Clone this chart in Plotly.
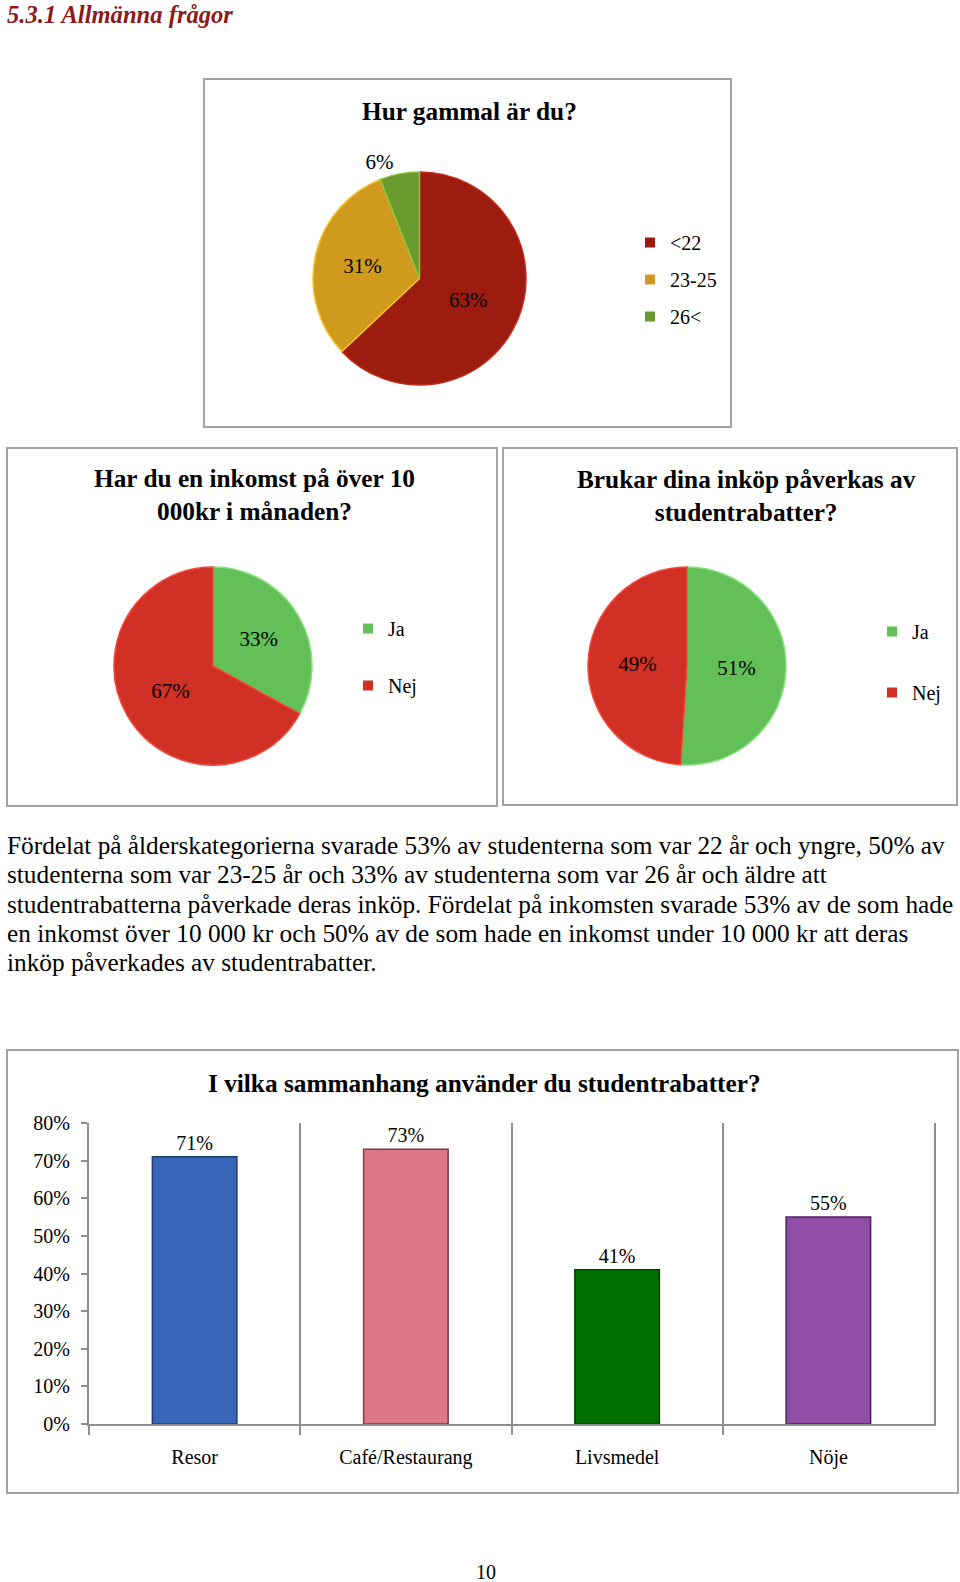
import plotly.graph_objects as go

W, H = 960, 1582
SERIF = "Liberation Serif, Times New Roman, serif"

# ---------------- data ----------------
age_title = "Hur gammal är du?"
age_labels = ["<22", "23-25", "26<"]
age_values = [63, 31, 6]
age_colors = ["#9C1C10", "#D09A1E", "#6A9A2E"]
age_edges = ["#C42A18", "#F2C530", "#8CC43E"]

yn_labels = ["Ja", "Nej"]
yn_colors = ["#63C058", "#D13125"]
yn_edges = ["#86E27A", "#F4473A"]

income_title = "Har du en inkomst på över 10<br>000kr i månaden?"
income_values = [33, 67]

discount_title = "Brukar dina inköp påverkas av<br>studentrabatter?"
discount_values = [51, 49]

bar_title = "I vilka sammanhang använder du studentrabatter?"
bar_categories = ["Resor", "Café/Restaurang", "Livsmedel", "Nöje"]
bar_values = [0.71, 0.73, 0.41, 0.55]
bar_colors = ["#3A66B9", "#DD7788", "#007000", "#914EA6"]
bar_edges = ["#1F3C70", "#7A3A44", "#003F00", "#4E2460"]
y_tick_vals = [0, 0.1, 0.2, 0.3, 0.4, 0.5, 0.6, 0.7, 0.8]

header_text = "5.3.1 Allmänna frågor"
paragraph_lines = [
    "Fördelat på ålderskategorierna svarade 53% av studenterna som var 22 år och yngre, 50% av",
    "studenterna som var 23-25 år och 33% av studenterna som var 26 år och äldre att",
    "studentrabatterna påverkade deras inköp. Fördelat på inkomsten svarade 53% av de som hade",
    "en inkomst över 10 000 kr och 50% av de som hade en inkomst under 10 000 kr att deras",
    "inköp påverkades av studentrabatter.",
]
page_number = "10"


def fx(x):
    return x / W


def fy(y):
    return 1 - y / H


fig = go.Figure()

# ---------------- bars (first, so the x axis is categorical) ----------------
fig.add_trace(go.Bar(
    x=bar_categories, y=bar_values, width=0.4,
    marker=dict(color=bar_colors, line=dict(color=bar_edges, width=1.5)),
    texttemplate="%{y:.0%}", textposition="outside", cliponaxis=False,
    textfont=dict(family=SERIF, size=20, color="black"),
    showlegend=False, hoverinfo="x+y",
))

# ---------------- pies ----------------
fig.add_trace(go.Pie(
    labels=age_labels, values=age_values, sort=False, direction="clockwise", rotation=0,
    marker=dict(colors=age_colors, line=dict(color=age_edges, width=1.5)),
    texttemplate="%{percent:.0%}", textposition=["inside", "inside", "outside"],
    insidetextorientation="horizontal",
    textfont=dict(family=SERIF, size=21, color="black"),
    domain=dict(x=[fx(313), fx(526)], y=[fy(420), fy(137)]),
    showlegend=False, hoverinfo="label+percent",
))
fig.add_trace(go.Pie(
    labels=yn_labels, values=income_values, sort=False, direction="clockwise", rotation=0,
    marker=dict(colors=yn_colors, line=dict(color=yn_edges, width=1.5)),
    texttemplate="%{percent:.0%}", textposition="inside", insidetextorientation="horizontal",
    textfont=dict(family=SERIF, size=21, color="black"),
    domain=dict(x=[fx(114), fx(312)], y=[fy(765), fy(567)]),
    showlegend=False, hoverinfo="label+percent",
))
fig.add_trace(go.Pie(
    labels=yn_labels, values=discount_values, sort=False, direction="clockwise", rotation=0,
    marker=dict(colors=yn_colors, line=dict(color=yn_edges, width=1.5)),
    texttemplate="%{percent:.0%}", textposition="inside", insidetextorientation="horizontal",
    textfont=dict(family=SERIF, size=21, color="black"),
    domain=dict(x=[fx(588), fx(786)], y=[fy(765), fy(567)]),
    showlegend=False, hoverinfo="label+percent",
))

# legend entries (one per slice category, drawn by the library legend)
for lab, col in zip(age_labels, age_colors):
    fig.add_trace(go.Scatter(x=[None], y=[None], mode="markers", name=lab, legend="legend",
                             legendgroup="age" + lab, marker=dict(symbol="square", size=10, color=col),
                             hoverinfo="skip"))
for lab, col in zip(yn_labels, yn_colors):
    fig.add_trace(go.Scatter(x=[None], y=[None], mode="markers", name=lab, legend="legend2",
                             legendgroup="inc" + lab, marker=dict(symbol="square", size=10, color=col),
                             hoverinfo="skip"))
for lab, col in zip(yn_labels, yn_colors):
    fig.add_trace(go.Scatter(x=[None], y=[None], mode="markers", name=lab, legend="legend3",
                             legendgroup="dis" + lab, marker=dict(symbol="square", size=10, color=col),
                             hoverinfo="skip"))

GRAY = "#8E8E8E"
leg_common = dict(xanchor="left", yanchor="top", bgcolor="rgba(0,0,0,0)", borderwidth=0,
                  font=dict(family=SERIF, size=20, color="black"), traceorder="grouped")

X_DOMAIN = [fx(89), fx(934)]

fig.update_layout(
    width=W, height=H, autosize=False,
    margin=dict(l=0, r=0, t=0, b=0, pad=0, autoexpand=False),
    paper_bgcolor="white", plot_bgcolor="white",
    font=dict(family=SERIF, color="black"),
    legend=dict(x=fx(630), y=fy(223), tracegroupgap=8, **leg_common),
    legend2=dict(x=fx(348), y=fy(609), tracegroupgap=28, **leg_common),
    legend3=dict(x=fx(872), y=fy(612), tracegroupgap=32, **leg_common),
    xaxis=dict(domain=X_DOMAIN, anchor="y", type="category", range=[-0.5, 3.5],
               showline=True, linecolor=GRAY, linewidth=2,
               tickson="boundaries", ticks="outside", ticklen=9, tickcolor=GRAY, tickwidth=2,
               showgrid=True, gridcolor=GRAY, gridwidth=2, automargin=False,
               tickfont=dict(family=SERIF, size=20, color="black"), ticklabelstandoff=14,
               fixedrange=True),
    yaxis=dict(domain=[fy(1424), fy(1123)], anchor="x", range=[0, 0.8],
               tickvals=y_tick_vals, tickformat=".0%",
               showline=True, mirror=True, linecolor=GRAY, linewidth=2,
               ticks="outside", ticklen=6, tickcolor=GRAY, tickwidth=2,
               showgrid=False, zeroline=False, automargin=False,
               tickfont=dict(family=SERIF, size=20, color="black"), ticklabelstandoff=7,
               fixedrange=True),
    showlegend=True,
)

# ---------------- frames ----------------
boxes = [(204, 79, 731, 427), (7, 448, 497, 806), (503, 448, 957, 805), (7, 1050, 958, 1493)]
for x0, y0, x1, y1 in boxes:
    fig.add_shape(type="rect", xref="paper", yref="paper", x0=fx(x0), x1=fx(x1), y0=fy(y1), y1=fy(y0),
                  line=dict(color="#A3A3A3", width=2), fillcolor="rgba(0,0,0,0)", layer="below")

# ---------------- texts ----------------
TS = 25.3
ann = []
ann.append(dict(text="<b><i>" + header_text + "</i></b>", x=fx(5), y=fy(14), xanchor="left", yanchor="middle",
                font=dict(family=SERIF, size=24.6, color="#8B1A1A")))
ann.append(dict(text="<b>" + age_title + "</b>", x=fx(469), y=fy(111), xanchor="center", yanchor="middle",
                font=dict(family=SERIF, size=TS, color="black")))
ann.append(dict(text="<b>" + income_title + "</b>", x=fx(254), y=fy(494), xanchor="center", yanchor="middle",
                font=dict(family=SERIF, size=TS, color="black")))
ann.append(dict(text="<b>" + discount_title + "</b>", x=fx(746), y=fy(495), xanchor="center", yanchor="middle",
                font=dict(family=SERIF, size=TS, color="black")))
ann.append(dict(text="<b>" + bar_title + "</b>", x=fx(484), y=fy(1083), xanchor="center", yanchor="middle",
                font=dict(family=SERIF, size=TS, color="black")))
for i, line in enumerate(paragraph_lines):
    ann.append(dict(text=line, x=fx(5), y=fy(845 + i * 29.3), xanchor="left", yanchor="middle",
                    font=dict(family=SERIF, size=25.3, color="black")))
ann.append(dict(text=page_number, x=fx(486), y=fy(1572), xanchor="center", yanchor="middle",
                font=dict(family=SERIF, size=20, color="black")))
for a in ann:
    a.update(xref="paper", yref="paper", showarrow=False)
fig.update_layout(annotations=ann)

fig.write_html("out.html", config={"displayModeBar": False},
               post_script="document.body.style.margin='0px';")
